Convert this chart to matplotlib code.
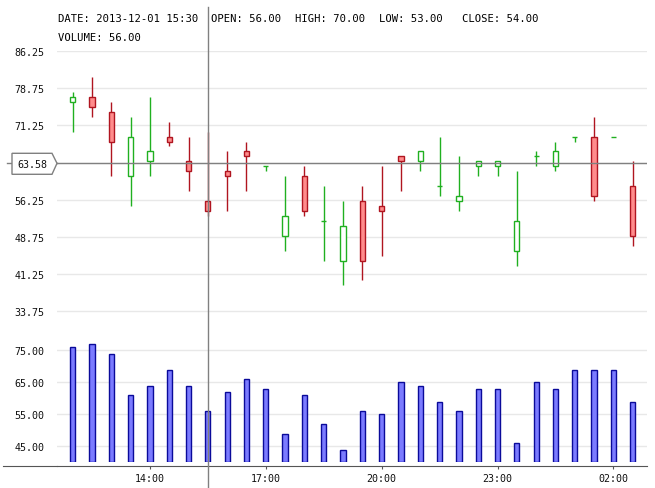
import matplotlib
matplotlib.use("Agg")
import matplotlib.pyplot as plt
from matplotlib.lines import Line2D
from matplotlib.patches import Polygon
import numpy as np

# half-hour candles starting 2013-12-01 12:00
opens  = [76, 77, 74, 61, 64, 69, 64, 56, 62, 66, 63, 49, 61, 52, 44,
          56, 55, 65, 64, 59, 56, 63, 63, 46, 65, 63, 69, 69, 69, 59]
highs  = [78, 81, 76, 73, 77, 72, 69, 70, 66, 68, 63, 61, 63, 59, 56,
          59, 63, 65, 66, 69, 65, 64, 64, 62, 66, 68, 69, 73, 69, 64]
lows   = [70, 73, 61, 55, 61, 67, 58, 53, 54, 58, 62, 46, 53, 44, 39,
          40, 45, 58, 62, 57, 54, 61, 61, 43, 63, 62, 68, 56, 69, 47]
closes = [77, 75, 68, 69, 66, 68, 62, 54, 61, 65, 63, 53, 54, 52, 51,
          44, 54, 64, 66, 59, 57, 64, 64, 52, 65, 66, 69, 57, 69, 49]
volumes = [76, 77, 74, 61, 64, 69, 64, 56, 62, 66, 63, 49, 61, 52, 44,
           56, 55, 65, 64, 59, 56, 63, 63, 46, 65, 63, 69, 69, 69, 59]

tick_idx = [4, 10, 16, 22, 28]
tick_labels = ['14:00', '17:00', '20:00', '23:00', '02:00']
price_ticks = [33.75, 41.25, 48.75, 56.25, 63.75, 71.25, 78.75, 86.25]
vol_ticks = [45, 55, 65, 75]

sel = 7          # crosshair on 15:30 candle
cross_price = 63.58

W, H = 655, 489
def fx(px): return px / W
def fy(py): return 1 - py / H

mono = 'DejaVu Sans Mono'
plt.rcParams['font.family'] = mono

fig = plt.figure(figsize=(6.55, 4.89), dpi=100)
ax = fig.add_axes([fx(57), fy(331), fx(647) - fx(57), fy(52) - fy(331)])
axv = fig.add_axes([fx(57), fy(463.3), fx(647) - fx(57), fy(335.3) - fy(463.3)])

x = np.arange(len(opens))
o = np.array(opens); c = np.array(closes)
up = c >= o
green = '#20b020'
red_e = '#b01520'
red_f = '#ff8c8c'

bw = 0.27
lab = 7.2
for a in (ax, axv):
    a.set_xlim(-0.81, 29.74)
    for s in a.spines.values():
        s.set_visible(False)
    a.set_facecolor('none')

# price panel
ax.set_ylim(30, 86.25)
ax.set_yticks(price_ticks)
# the 63.75 label sits under the crosshair price box
ax.set_yticklabels(['' if v == 63.75 else '%.2f' % v for v in price_ticks])
ax.grid(axis='y', color='#e8e8e8', linewidth=1)
ax.set_axisbelow(True)
ax.tick_params(axis='y', length=0, pad=9, labelsize=lab, labelcolor='#111111')
ax.set_xticks([])

ax.vlines(x[up], np.array(lows)[up], np.array(highs)[up], color=green, linewidth=1, zorder=2)
ax.vlines(x[~up], np.array(lows)[~up], np.array(highs)[~up], color=red_e, linewidth=1, zorder=2)
ax.bar(x[up], (c - o)[up], bottom=o[up], width=bw, facecolor='white',
       edgecolor=green, linewidth=1, zorder=3)
ax.bar(x[~up], (o - c)[~up], bottom=c[~up], width=bw, facecolor=red_f,
       edgecolor=red_e, linewidth=1, zorder=3)

ax.axhline(cross_price, color='#808080', linewidth=1, zorder=4)

# volume panel
axv.set_ylim(40, 80)
axv.set_yticks(vol_ticks)
axv.set_yticklabels(['%.2f' % v for v in vol_ticks])
axv.grid(axis='y', color='#e8e8e8', linewidth=1)
axv.set_axisbelow(True)
axv.bar(x, np.array(volumes) - 40, bottom=40, width=bw, facecolor='#7b7bff',
        edgecolor='#0a0a9a', linewidth=1, zorder=3)
axv.spines['bottom'].set_visible(True)
axv.spines['bottom'].set_position(('outward', 2.5))
axv.spines['bottom'].set_color('#555555')
axv.set_xticks(tick_idx)
axv.set_xticklabels(tick_labels)
axv.tick_params(axis='y', length=0, pad=9, labelsize=lab, labelcolor='#111111')
axv.tick_params(axis='x', length=2.5, color='#555555', pad=3, labelsize=lab,
                labelcolor='#111111')

# axis line extends to the left edge
fig.add_artist(Line2D([fx(3), fx(57)], [fy(466.7), fy(466.7)], color='#555555', linewidth=0.8))

# vertical crosshair
cx = fx(57) + (sel + 0.81) / (29.74 + 0.81) * (fx(647) - fx(57))
fig.add_artist(Line2D([cx, cx], [fy(8), 0], color='#808080', linewidth=1, zorder=10))
# horizontal crosshair runs out to the box
fig.add_artist(Line2D([fx(7), fx(57)], [fy(164.3), fy(164.3)], color='#808080', linewidth=1))

# price label box
pts = [(12, 154.3), (52, 154.3), (57, 164.3), (52, 175.3), (12, 175.3)]
fig.add_artist(Polygon([(fx(a), fy(b)) for a, b in pts], closed=True,
                       facecolor='white', edgecolor='#808080', linewidth=1, zorder=5))
fig.text(fx(32.5), fy(164.8), '%.2f' % cross_price, ha='center', va='center',
         fontsize=lab, color='#111111', zorder=6)

# info text
ts = 7.6
fig.text(fx(58), fy(19.3), 'DATE: 2013-12-01 15:30', ha='left', va='center', fontsize=ts)
fig.text(fx(210.7), fy(19.3), 'OPEN: %.2f' % opens[sel], ha='left', va='center', fontsize=ts)
fig.text(fx(295), fy(19.3), 'HIGH: %.2f' % highs[sel], ha='left', va='center', fontsize=ts)
fig.text(fx(379.3), fy(19.3), 'LOW: %.2f' % lows[sel], ha='left', va='center', fontsize=ts)
fig.text(fx(461.7), fy(19.3), 'CLOSE: %.2f' % closes[sel], ha='left', va='center', fontsize=ts)
fig.text(fx(58), fy(38.3), 'VOLUME: %.2f' % volumes[sel], ha='left', va='center', fontsize=ts)

fig.savefig('out.png', dpi=100)
